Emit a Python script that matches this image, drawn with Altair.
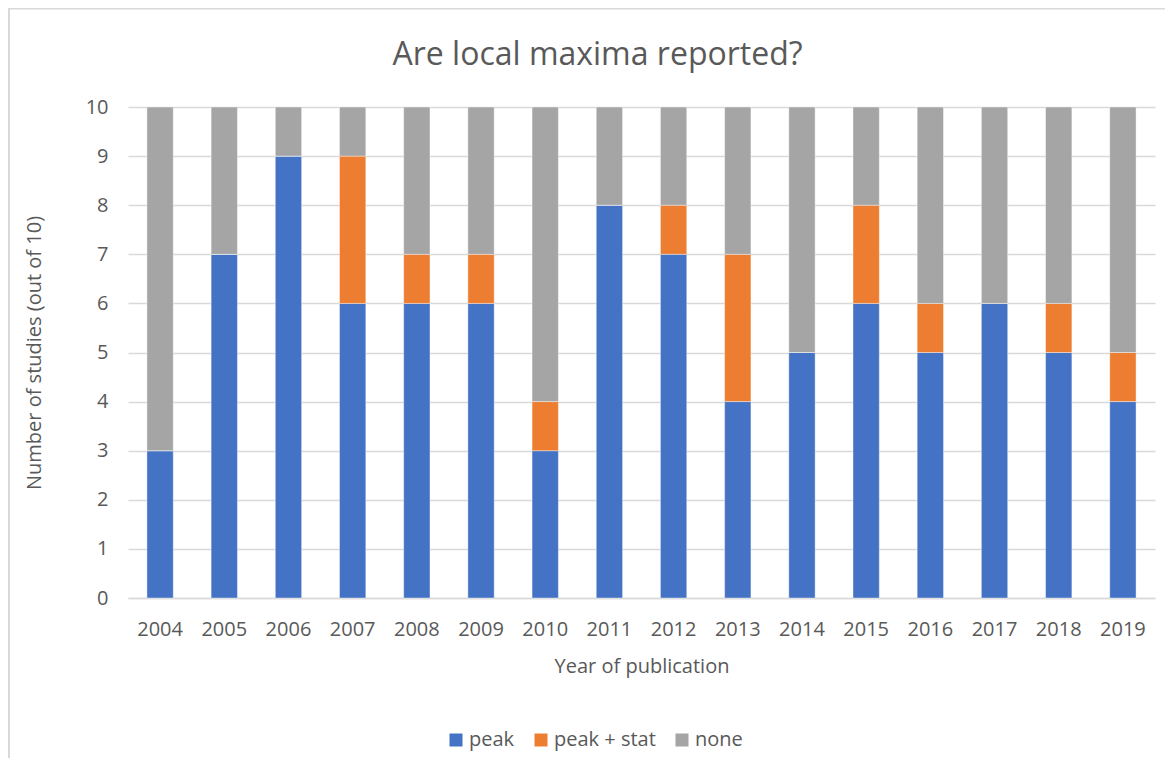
import altair as alt
import pandas as pd

years = [str(y) for y in range(2004, 2020)]
peak = [3, 7, 9, 6, 6, 6, 3, 8, 7, 4, 5, 6, 5, 6, 5, 4]
peak_stat = [0, 0, 0, 3, 1, 1, 1, 0, 1, 3, 0, 2, 1, 0, 1, 1]
none_ = [7, 3, 1, 1, 3, 3, 6, 2, 2, 3, 5, 2, 4, 4, 4, 5]
series = ["peak", "peak + stat", "none"]
colors = ["#4472C4", "#ED7D31", "#A5A5A5"]

rows = []
for i, y in enumerate(years):
    for k, (name, vals) in enumerate(zip(series, [peak, peak_stat, none_])):
        rows.append({"year": y, "series": name, "value": vals[i], "order": k})
df = pd.DataFrame(rows)

FONT = "Open Sans"
GRAY = "#595959"
W, H = 1027, 491

bars = alt.Chart(df).mark_bar(stroke="white", strokeWidth=0.8, strokeOpacity=0.5).encode(
    x=alt.X("year:N", sort=years,
            scale=alt.Scale(paddingInner=0.59, paddingOuter=0.295),
            axis=alt.Axis(title="Year of publication", labelAngle=0, ticks=False,
                          domainColor="#D9D9D9", domainWidth=1.5,
                          labelPadding=21, titlePadding=17)),
    y=alt.Y("value:Q", stack="zero",
            scale=alt.Scale(domain=[0, 10], nice=False),
            axis=alt.Axis(title="Number of studies (out of 10)", values=list(range(11)),
                          ticks=False, domain=False, grid=True, gridColor="#D9D9D9",
                          gridWidth=1.5, labelPadding=20, titlePadding=41)),
    color=alt.Color("series:N", sort=series,
                    scale=alt.Scale(domain=series, range=colors),
                    legend=alt.Legend(title=None, orient="none", direction="horizontal",
                                      legendX=318, legendY=623, symbolType="square",
                                      symbolSize=169, symbolStrokeWidth=0,
                                      columnPadding=16, labelOffset=3, padding=0)),
    order=alt.Order("order:Q"),
)

frame_df = pd.DataFrame({"a": [0]})
left_border = alt.Chart(frame_df).mark_rule(color="#D9D9D9", strokeWidth=2).encode(
    x=alt.value(-119), y=alt.value(-100), y2=alt.value(700))
top_border = alt.Chart(frame_df).mark_rule(color="#D9D9D9", strokeWidth=2).encode(
    x=alt.value(-120), x2=alt.value(1100), y=alt.value(-98.5))

chart = alt.layer(left_border, top_border, bars).properties(
    width=W, height=H,
    title=alt.TitleParams("Are local maxima reported?", fontSize=32, font=FONT,
                          color=GRAY, fontWeight="normal", anchor="middle",
                          frame="group", baseline="alphabetic",
                          dx=-44, offset=-91),
    autosize=alt.AutoSizeParams(type="none"),
    padding={"left": 120, "top": 99, "right": 10, "bottom": 160},
).configure_view(stroke=None).configure_axis(
    labelFont=FONT, titleFont=FONT, labelFontSize=20, titleFontSize=20,
    labelColor=GRAY, titleColor=GRAY, titleFontWeight="normal",
).configure_legend(labelFont=FONT, labelFontSize=20, labelColor=GRAY)

chart.save("out.html", embed_options={"renderer": "svg", "actions": False})
